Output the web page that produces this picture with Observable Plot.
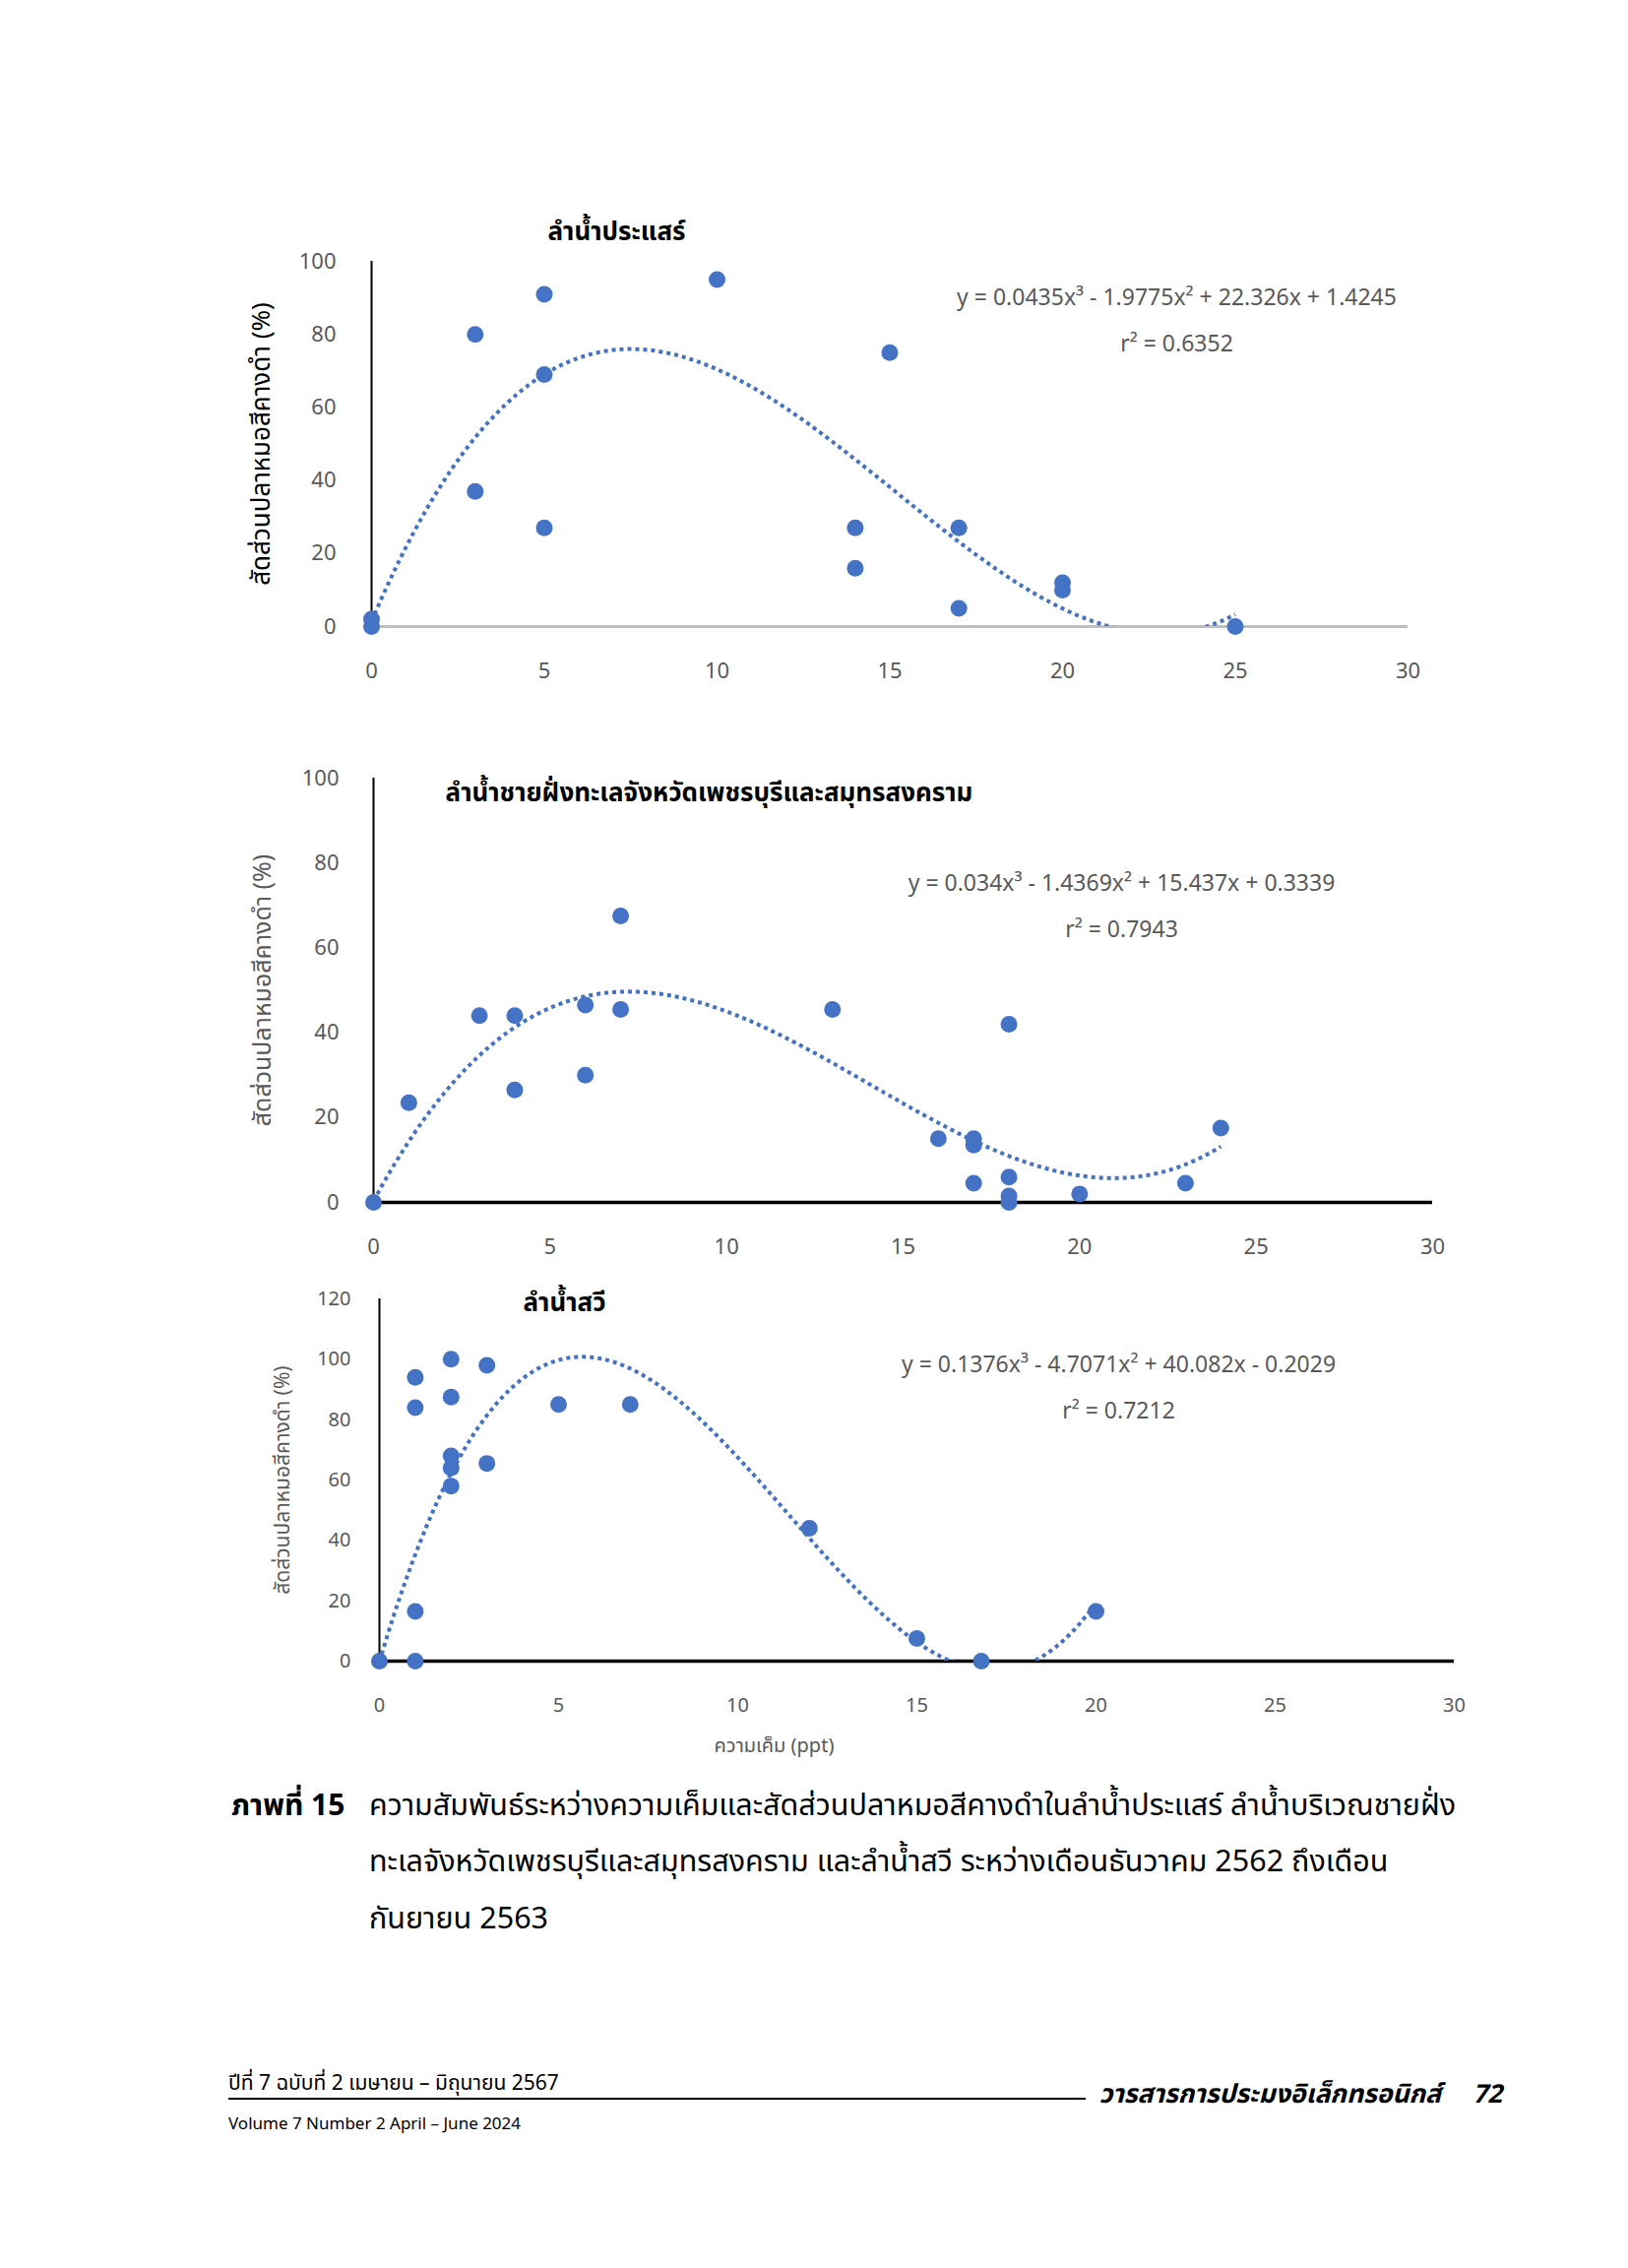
<!DOCTYPE html>
<html><head><meta charset="utf-8">
<script src="https://cdn.jsdelivr.net/npm/d3@7"></script>
<script src="https://cdn.jsdelivr.net/npm/@observablehq/plot@0.6"></script>
<style>
html,body{margin:0;padding:0;background:#fff;}
body{width:1654px;height:2304px;position:relative;overflow:hidden;font-family:"Noto Sans Thai","Noto Sans","Lato",sans-serif;color:#000;}
.abs{position:absolute;white-space:nowrap;line-height:1;}
.chart{position:absolute;left:0;}
.chart svg{background:transparent;overflow:visible;}
</style></head><body>
<div id="c1" class="chart" style="top:200px"></div>
<div id="c2" class="chart" style="top:740px"></div>
<div id="c3" class="chart" style="top:1290px"></div>

<div class="abs" id="capLabel" style="left:235px;top:1820px;font-size:30px;font-weight:bold;"></div>
<div class="abs" id="cap1" style="left:375px;top:1820px;font-size:30.5px;"></div>
<div class="abs" id="cap2" style="left:375px;top:1877px;font-size:30.5px;"></div>
<div class="abs" id="cap3" style="left:375px;top:1935px;font-size:30.5px;"></div>

<div class="abs" id="footL" style="left:232px;top:2106px;font-size:21px;"></div>
<div class="abs" style="left:232px;top:2131px;width:871px;height:2px;background:#000;"></div>
<div class="abs" id="footJ" style="right:190px;top:2115px;font-size:26.5px;font-weight:bold;font-style:italic;"></div>
<div class="abs" id="footN" style="right:128px;top:2115px;font-size:26px;font-weight:bold;font-style:italic;"></div>
<div class="abs" id="footV" style="left:232px;top:2150px;font-size:17px;"></div>

<script>
// ---------- data ----------
const xTicks = [0, 5, 10, 15, 20, 25, 30];
const yTicks100 = [0, 20, 40, 60, 80, 100];
const yTicks120 = [0, 20, 40, 60, 80, 100, 120];
const yTitle = "สัดส่วนปลาหมอสีคางดำ (%)";
const xTitle = "ความเค็ม (ppt)";

const title1 = "ลำน้ำประแสร์";
const sal1  = [0, 0, 3, 3, 5, 5, 5, 10, 14, 14, 15, 17, 17, 20, 20, 25];
const prop1 = [0, 2, 80, 37, 91, 69, 27, 95, 27, 16, 75, 27, 5, 12, 10, 0];
const coef1 = [1.4245, 22.326, -1.9775, 0.0435];
const fitMax1 = 25;
const eq1 = "y = 0.0435x³ - 1.9775x² + 22.326x + 1.4245";
const r2_1 = "r² = 0.6352";

const title2 = "ลำน้ำชายฝั่งทะเลจังหวัดเพชรบุรีและสมุทรสงคราม";
const sal2  = [0, 1, 3, 4, 4, 6, 6, 7, 7, 13, 16, 17, 17, 17, 18, 18, 18, 18, 20, 23, 24];
const prop2 = [0, 23.5, 44, 44, 26.5, 46.5, 30, 67.5, 45.5, 45.5, 15, 15, 13.5, 4.5, 42, 6, 1.5, 0, 2, 4.5, 17.5];
const coef2 = [0.3339, 15.437, -1.4369, 0.034];
const fitMax2 = 24;
const eq2 = "y = 0.034x³ - 1.4369x² + 15.437x + 0.3339";
const r2_2 = "r² = 0.7943";

const title3 = "ลำน้ำสวี";
const sal3  = [0, 1, 1, 1, 1, 2, 2, 2, 2, 2, 3, 3, 5, 7, 12, 15, 16.8, 20];
const prop3 = [0, 94, 84, 16.5, 0, 100, 87.5, 68, 64, 58, 98, 65.5, 85, 85, 44, 7.5, 0, 16.5];
const coef3 = [-0.2029, 40.082, -4.7071, 0.1376];
const fitMax3 = 20;
const eq3 = "y = 0.1376x³ - 4.7071x² + 40.082x - 0.2029";
const r2_3 = "r² = 0.7212";

const captionLabel = "ภาพที่ 15";
const captionLines = [
  "ความสัมพันธ์ระหว่างความเค็มและสัดส่วนปลาหมอสีคางดำในลำน้ำประแสร์ ลำน้ำบริเวณชายฝั่ง",
  "ทะเลจังหวัดเพชรบุรีและสมุทรสงคราม และลำน้ำสวี ระหว่างเดือนธันวาคม 2562 ถึงเดือน",
  "กันยายน 2563"
];
const footLeft = "ปีที่ 7 ฉบับที่ 2 เมษายน – มิถุนายน 2567";
const footJournal = "วารสารการประมงอิเล็กทรอนิกส์";
const footPage = "72";
const footVolume = "Volume 7 Number 2 April – June 2024";

// ---------- drawing ----------
const BLUE = "#4472C4";
const GREY = "#595959";
const FONT = '"Noto Sans Thai","Noto Sans","Lato",sans-serif';

function fitCurve(coef, xmax) {
  return d3.range(0, xmax + 1e-9, 0.05).map(x => ({x, y: coef.reduce((s, c, i) => s + c * Math.pow(x, i), 0)}));
}

function chart(o) {
  const pts = o.sal.map((s, i) => ({s, p: o.prop[i]}));
  return Plot.plot({
    width: 1654,
    height: o.mt + o.frameH + o.mb,
    marginLeft: o.ml, marginRight: o.mr, marginTop: o.mt, marginBottom: o.mb,
    style: {fontFamily: FONT, background: "transparent", overflow: "visible"},
    x: {domain: [0, 30]},
    y: {domain: o.yDomain},
    marks: [
      Plot.axisX({ticks: xTicks, tickSize: 0, tickPadding: 37, fontSize: o.tickFont, fill: GREY, label: null}),
      Plot.axisY({ticks: o.yTicks, tickSize: 0, tickPadding: o.yPad, fontSize: o.tickFont, fill: GREY, label: null}),
      Plot.ruleX([0], {stroke: "#000", strokeWidth: 2}),
      Plot.ruleY([0], {stroke: o.xAxisColor, strokeWidth: o.xAxisWidth}),
      Plot.line(fitCurve(o.coef, o.fitMax), {x: "x", y: "y", stroke: BLUE, strokeWidth: 4, strokeDasharray: "4,4", strokeLinecap: "butt", clip: true}),
      Plot.dot(pts, {x: "s", y: "p", r: 8.5, fill: BLUE, stroke: "none"}),
      Plot.text([o.title], {frameAnchor: "top-left", dx: o.titleDx, dy: o.titleDy, textAnchor: "middle", fontSize: o.titleFont, fontWeight: "bold", fill: "#000"}),
      Plot.text([yTitle], {frameAnchor: "left", dx: o.yTitleDx, rotate: -90, textAnchor: "middle", fontSize: o.yTitleFont, fill: o.yTitleColor}),
      Plot.text([o.eq], {frameAnchor: "top-left", dx: o.eqDx, dy: o.eqDy, textAnchor: "middle", fontSize: 23, fill: GREY}),
      Plot.text([o.r2], {frameAnchor: "top-left", dx: o.eqDx, dy: o.r2Dy, textAnchor: "middle", fontSize: 23, fill: GREY}),
      ...(o.xTitle ? [Plot.text([o.xTitle], {frameAnchor: "bottom-left", dx: o.xTitleDx, dy: o.xTitleDy, textAnchor: "middle", fontSize: 20, fill: GREY})] : [])
    ]
  });
}

document.getElementById("c1").append(chart({
  sal: sal1, prop: prop1, coef: coef1, fitMax: fitMax1, title: title1, eq: eq1, r2: r2_1,
  ml: 377, mr: 224, mt: 65, frameH: 371, mb: 70, yDomain: [0, 100], yTicks: yTicks100,
  yPad: 36, tickFont: 22, xAxisColor: "#BFBFBF", xAxisWidth: 3,
  titleDx: 249, titleDy: -40, titleFont: 26,
  yTitleDx: -112, yTitleFont: 26, yTitleColor: "#000",
  eqDx: 818, eqDy: 28, r2Dy: 75
}));
document.getElementById("c2").append(chart({
  sal: sal2, prop: prop2, coef: coef2, fitMax: fitMax2, title: title2, eq: eq2, r2: r2_2,
  ml: 379, mr: 199, mt: 50, frameH: 431, mb: 70, yDomain: [0, 100], yTicks: yTicks100,
  yPad: 35, tickFont: 22, xAxisColor: "#000", xAxisWidth: 3.5,
  titleDx: 341, titleDy: 5, titleFont: 26,
  yTitleDx: -113, yTitleFont: 25, yTitleColor: GREY,
  eqDx: 760, eqDy: 98, r2Dy: 145
}));
document.getElementById("c3").append(chart({
  sal: sal3, prop: prop3, coef: coef3, fitMax: fitMax3, title: title3, eq: eq3, r2: r2_3,
  ml: 385, mr: 177, mt: 29, frameH: 368, mb: 110, yDomain: [0, 120], yTicks: yTicks120,
  yPad: 29, tickFont: 20, xAxisColor: "#000", xAxisWidth: 3.5,
  titleDx: 188, titleDy: -6, titleFont: 26,
  yTitleDx: -98, yTitleFont: 21, yTitleColor: GREY,
  eqDx: 751, eqDy: 58, r2Dy: 105,
  xTitle: xTitle, xTitleDx: 401, xTitleDy: 92
}));

document.getElementById("capLabel").textContent = captionLabel;
document.getElementById("cap1").textContent = captionLines[0];
document.getElementById("cap2").textContent = captionLines[1];
document.getElementById("cap3").textContent = captionLines[2];
document.getElementById("footL").textContent = footLeft;
document.getElementById("footJ").textContent = footJournal;
document.getElementById("footN").textContent = footPage;
document.getElementById("footV").textContent = footVolume;
</script>
</body></html>
